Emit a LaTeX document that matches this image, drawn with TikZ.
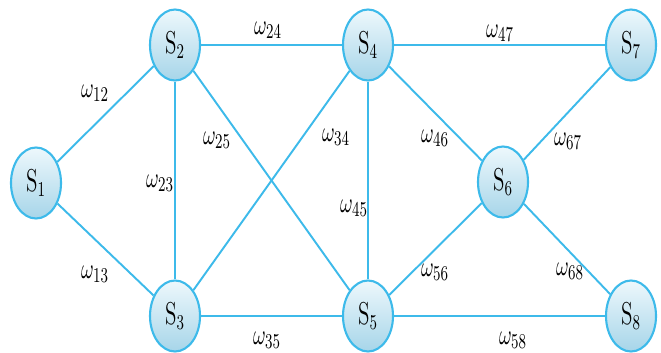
\documentclass[tikz,border=0pt]{standalone}
\usepackage{graphicx}
\definecolor{netCyan}{HTML}{3DBAEA}
\definecolor{netLight}{HTML}{EEF8FC}
\definecolor{netBlue}{HTML}{A6D5E9}
\usetikzlibrary{positioning, shapes.geometric}
\newcommand{\tallbox}[1]{\scalebox{1}[1.5]{#1}}
\tikzset{
    station/.style={ellipse, draw=netCyan, line width=1.2pt, top color=netLight, bottom color=netBlue,
        minimum width=1cm, minimum height=1.42cm, inner sep=0pt, font=\fontsize{12}{14}\selectfont},
    link/.style={netCyan, line width=1.1pt},
    weight/.style={font=\fontsize{11}{13}\selectfont, inner sep=0pt}
}

\begin{document}
\begin{tikzpicture}
        \useasboundingbox (0,0) rectangle (13.22,7.04);

        % Stations
        \node[station] (s1) at (0.72,3.38) {\tallbox{$\mathrm{S}_1$}};
        \node[station] (s2) at (3.5,6.14) {\tallbox{$\mathrm{S}_2$}};
        \node[station] (s3) at (3.5,0.72) {\tallbox{$\mathrm{S}_3$}};
        \node[station] (s4) at (7.36,6.14) {\tallbox{$\mathrm{S}_4$}};
        \node[station] (s5) at (7.36,0.72) {\tallbox{$\mathrm{S}_5$}};
        \node[station] (s6) at (10.06,3.4) {\tallbox{$\mathrm{S}_6$}};
        \node[station] (s7) at (12.62,6.14) {\tallbox{$\mathrm{S}_7$}};
        \node[station] (s8) at (12.62,0.72) {\tallbox{$\mathrm{S}_8$}};

        % Links
        \draw[link] (s1) -- (s2);
        \draw[link] (s1) -- (s3);
        \draw[link] (s2) -- (s3);
        \draw[link] (s2) -- (s4);
        \draw[link] (s2) -- (s5);
        \draw[link] (s3) -- (s4);
        \draw[link] (s3) -- (s5);
        \draw[link] (s4) -- (s5);
        \draw[link] (s4) -- (s6);
        \draw[link] (s4) -- (s7);
        \draw[link] (s5) -- (s6);
        \draw[link] (s5) -- (s8);
        \draw[link] (s6) -- (s7);
        \draw[link] (s6) -- (s8);

        % Weights
        \node[weight] (w12) at (1.9,5.18) {\tallbox{$\omega_{12}$}};
        \node[weight] (w13) at (1.9,1.56) {\tallbox{$\omega_{13}$}};
        \node[weight] (w23) at (3.2,3.38) {\tallbox{$\omega_{23}$}};
        \node[weight] (w24) at (5.36,6.44) {\tallbox{$\omega_{24}$}};
        \node[weight] (w25) at (4.34,4.24) {\tallbox{$\omega_{25}$}};
        \node[weight] (w34) at (6.72,4.3) {\tallbox{$\omega_{34}$}};
        \node[weight] (w35) at (5.34,0.24) {\tallbox{$\omega_{35}$}};
        \node[weight] (w45) at (7.08,2.88) {\tallbox{$\omega_{45}$}};
        \node[weight] (w46) at (8.7,4.28) {\tallbox{$\omega_{46}$}};
        \node[weight] (w47) at (10.0,6.38) {\tallbox{$\omega_{47}$}};
        \node[weight] (w56) at (8.7,1.6) {\tallbox{$\omega_{56}$}};
        \node[weight] (w58) at (10.26,0.24) {\tallbox{$\omega_{58}$}};
        \node[weight] (w67) at (11.36,4.22) {\tallbox{$\omega_{67}$}};
        \node[weight] (w68) at (11.4,1.62) {\tallbox{$\omega_{68}$}};
    \end{tikzpicture}
\end{document}
